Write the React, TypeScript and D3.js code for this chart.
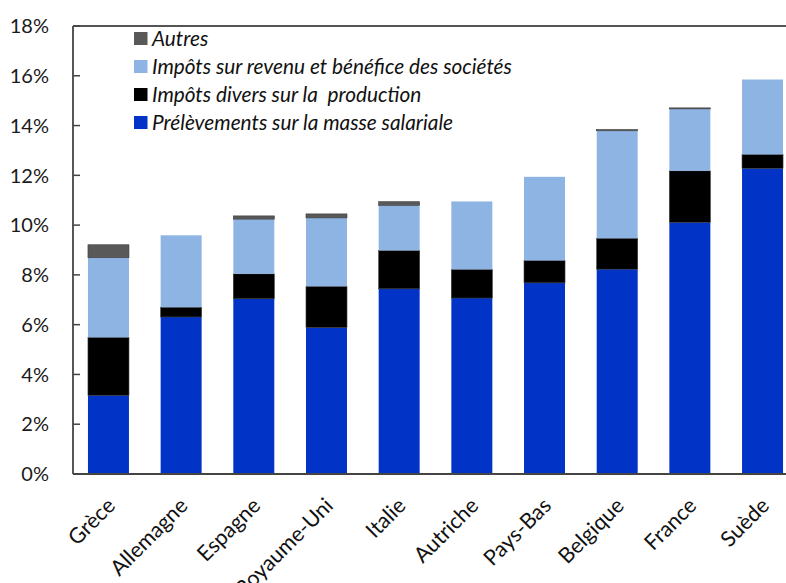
import React from "react";
import * as d3 from "d3";

// Contributions fiscales des entreprises, en % du PIB
const countries = [
  "Grèce", "Allemagne", "Espagne", "Royaume-Uni", "Italie",
  "Autriche", "Pays-Bas", "Belgique", "France", "Suède",
];
const prelevementsSalaires = [3.16, 6.31, 7.04, 5.88, 7.44, 7.07, 7.68, 8.23, 10.11, 12.28];
const impotsProduction = [2.33, 0.39, 1.0, 1.66, 1.54, 1.15, 0.9, 1.24, 2.07, 0.56];
const impotsSocietes = [3.2, 2.89, 2.2, 2.75, 1.81, 2.73, 3.36, 4.32, 2.49, 3.01];
const autres = [0.52, 0.0, 0.13, 0.16, 0.15, 0.0, 0.0, 0.05, 0.04, 0.0];

const yTicks = [0, 2, 4, 6, 8, 10, 12, 14, 16, 18];

const seriesKeys = ["salaires", "production", "societes", "autres"] as const;
const seriesLabels: Record<string, string> = {
  salaires: "Prélèvements sur la masse salariale",
  production: "Impôts divers sur la  production",
  societes: "Impôts sur revenu et bénéfice des sociétés",
  autres: "Autres",
};
const seriesColors: Record<string, string> = {
  salaires: "#0033c6",
  production: "#000000",
  societes: "#8eb4e3",
  autres: "#595959",
};
const legendOrder = ["autres", "societes", "production", "salaires"];

const W = 786;
const H = 583;
const left = 73;
const top = 26;
const bottom = 474;
const right = 798;

export default function App() {
  const rows = countries.map((c, i) => ({
    country: c,
    salaires: prelevementsSalaires[i],
    production: impotsProduction[i],
    societes: impotsSocietes[i],
    autres: autres[i],
  }));

  const x = d3
    .scaleBand<string>()
    .domain(countries)
    .range([left, right])
    .paddingInner(0.436)
    .paddingOuter(0.206);
  const y = d3.scaleLinear().domain([0, 18]).range([bottom, top]);

  const stacked = d3.stack<any>().keys(seriesKeys as unknown as string[])(rows);

  const font = "Lato, 'Open Sans', sans-serif";

  return (
    <svg
      width={W}
      height={H}
      style={{ position: "absolute", left: 0, top: 0, background: "#fff" }}
      fontFamily={font}
    >
      {/* stacked bars */}
      {stacked.map((layer) => (
        <g key={layer.key} fill={seriesColors[layer.key]}>
          {layer.map((d, i) => {
            const h = y(d[0]) - y(d[1]);
            if (h <= 0) return null;
            return (
              <rect
                key={i}
                x={x(countries[i])}
                y={y(d[1])}
                width={x.bandwidth()}
                height={h}
                stroke={layer.key === "salaires" || layer.key === "societes" ? "none" : "#3a3a3a"}
                strokeWidth={0.6}
              />
            );
          })}
        </g>
      ))}

      {/* frame: top border, left and bottom axes */}
      <line x1={left} x2={W} y1={top} y2={top} stroke="#555" strokeWidth={2} />
      <line x1={left} x2={left} y1={top} y2={bottom} stroke="#444" strokeWidth={1.8} />
      <line x1={left} x2={W} y1={bottom} y2={bottom} stroke="#444" strokeWidth={1.8} />

      {/* y ticks and labels */}
      {yTicks.map((t) => (
        <g key={t}>
          <line x1={left} x2={left + 7} y1={y(t)} y2={y(t)} stroke="#444" strokeWidth={1.5} />
          <text
            x={49}
            y={y(t)}
            dy="0.36em"
            textAnchor="end"
            fontSize={20}
            fill="#1a1a1a"
          >
            {t}%
          </text>
        </g>
      ))}

      {/* category labels */}
      {countries.map((c) => {
        const cx = (x(c) as number) + x.bandwidth() / 2 + 8;
        const cy = 507;
        return (
          <text
            key={c}
            transform={`translate(${cx},${cy}) rotate(-45)`}
            textAnchor="end"
            fontSize={21.5}
            fill="#111"
          >
            {c}
          </text>
        );
      })}

      {/* legend */}
      {legendOrder.map((k, i) => {
        const ly = 38.5 + i * 28;
        return (
          <g key={k}>
            <rect x={134} y={ly - 6.5} width={13.5} height={13} fill={seriesColors[k]} />
            <text
              x={152}
              y={ly}
              dy="0.36em"
              fontSize={20.8}
              fontStyle="italic"
              fill="#111"
              style={{ whiteSpace: "pre" }}
            >
              {seriesLabels[k]}
            </text>
          </g>
        );
      })}
    </svg>
  );
}
